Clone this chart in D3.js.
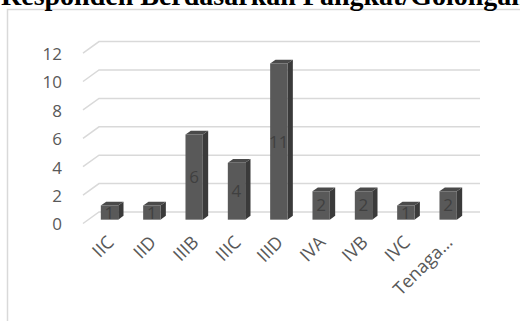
<!DOCTYPE html>
<html>
<head>
<meta charset="utf-8">
<script src="https://cdn.jsdelivr.net/npm/d3@7"></script>
<style>
  body { margin: 0; background: #fff; }
  svg { display: block; }
</style>
</head>
<body>
<div id="chart"></div>
<script>
var title = "Responden Berdasarkan Pangkat/Golongan";
var categories = ["IIC", "IID", "IIIB", "IIIC", "IIID", "IVA", "IVB", "IVC", "Tenaga\u2026"];
var values = [1, 1, 6, 4, 11, 2, 2, 1, 2];
var yTicks = [0, 2, 4, 6, 8, 10, 12];

var W = 520, H = 321;
// front plane of the 3D floor, plus the depth vector to the back wall
var x0 = 83, x1 = 464, yFloor = 223.5, yTop = 53.1;
var depth = {dx: 16, dy: -11.5};

var svg = d3.select("#chart").append("svg")
    .attr("width", W)
    .attr("height", H);

// chart area border
svg.append("path")
    .attr("d", "M7.5," + H + "V9.5H" + W)
    .attr("fill", "none")
    .attr("stroke", "#d9d9d9")
    .attr("stroke-width", 1.5);

svg.append("text")
    .attr("x", 1)
    .attr("y", 5)
    .style("font", "bold 28px 'Liberation Serif', 'Times New Roman', serif")
    .style("fill", "#000")
    .text(title);

var x = d3.scaleBand().domain(categories).range([x0, x1]);
var y = d3.scaleLinear().domain([0, 12]).range([yFloor, yTop]);

// gridlines: diagonal on the side wall, then along the back wall
var grid = svg.append("g");
yTicks.forEach(function(t) {
    var yy = y(t);
    grid.append("path")
        .attr("d", "M" + x0 + "," + yy + "L" + (x0 + depth.dx) + "," + (yy + depth.dy) +
                   "H" + (x1 + depth.dx))
        .attr("fill", "none")
        .attr("stroke", "#d9d9d9")
        .attr("stroke-width", 1.5);
});

svg.append("g").selectAll("text")
    .data(yTicks)
    .enter().append("text")
    .attr("x", 62)
    .attr("y", function(d) { return y(d) + 1; })
    .attr("dy", "0.35em")
    .attr("text-anchor", "end")
    .style("font", "17px 'Open Sans', sans-serif")
    .style("fill", "#595959")
    .text(function(d) { return d; });

// bars sit from 1/3 to 2/3 of the depth
var bw = x.bandwidth() * 0.41;
var d1 = {dx: depth.dx / 3, dy: depth.dy / 3};
var bars = svg.append("g").selectAll("g")
    .data(values)
    .enter().append("g")
    .attr("transform", function(d, i) {
        var cx = x(categories[i]) + x.bandwidth() / 2 + d1.dx;
        return "translate(" + (cx - bw / 2) + "," + d1.dy + ")";
    });

bars.append("path") // side
    .attr("d", function(d) {
        var top = y(d), bot = y(0);
        return "M" + bw + "," + bot + "L" + (bw + d1.dx) + "," + (bot + d1.dy) +
               "L" + (bw + d1.dx) + "," + (top + d1.dy) + "L" + bw + "," + top + "Z";
    })
    .attr("fill", "#3a3a3a");

bars.append("path") // top
    .attr("d", function(d) {
        var top = y(d);
        return "M0," + top + "L" + d1.dx + "," + (top + d1.dy) + "H" + (bw + d1.dx) +
               "L" + bw + "," + top + "Z";
    })
    .attr("fill", "#4a4a4a");

bars.append("rect") // front
    .attr("x", 0)
    .attr("y", function(d) { return y(d); })
    .attr("width", bw)
    .attr("height", function(d) { return y(0) - y(d); })
    .attr("fill", "#595959");

bars.append("text")
    .attr("x", bw / 2)
    .attr("y", function(d) { return (y(d) + y(0)) / 2; })
    .attr("dy", "0.35em")
    .attr("text-anchor", "middle")
    .style("font", "17px 'Open Sans', sans-serif")
    .style("fill", "#404040")
    .text(function(d) { return d; });

// category labels, rotated
svg.append("g").selectAll("text")
    .data(categories)
    .enter().append("text")
    .attr("transform", function(d) {
        var cx = x(d) + x.bandwidth() / 2 + d1.dx;
        return "translate(" + (cx + 1) + "," + 239 + ") rotate(-45)";
    })
    .attr("dy", "0.35em")
    .attr("text-anchor", "end")
    .style("font", "18px 'Open Sans', sans-serif")
    .style("fill", "#595959")
    .text(function(d) { return d; });
</script>
</body>
</html>
